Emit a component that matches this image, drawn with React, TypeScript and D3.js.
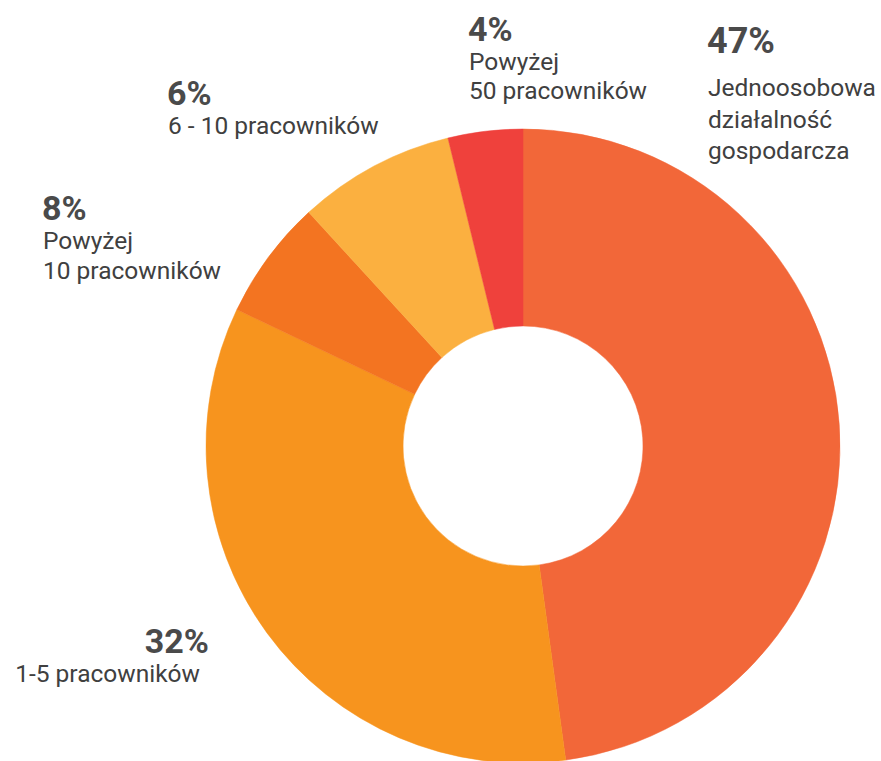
import React, { useEffect, useRef } from 'react';
import * as d3 from 'd3';

// slice shares (clockwise from 12 o'clock)
const sliceShares = [47.8, 34.2, 6.1, 8.0, 3.8];
const sliceColors = ['#F26739', '#F7941E', '#F37421', '#FBB040', '#EF413C'];

// text shown next to each slice
const percentLabels = ['47%', '32%', '8%', '6%', '4%'];
const nameLines = [
    ['Jednoosobowa', 'działalność', 'gospodarcza'],
    ['1-5 pracowników'],
    ['Powyżej', '10 pracowników'],
    ['6 - 10 pracowników'],
    ['Powyżej', '50 pracowników'],
];

// label anchors: [x, baseline of percentage, anchor, pct size, line gap]
const labelPlacement: [number, number, string, number, number][] = [
    [707, 53, 'start', 36, 31.5],
    [209, 653, 'end', 34, 29],
    [42, 220, 'start', 34, 30],
    [167, 105, 'start', 34, 30],
    [468, 41, 'start', 34, 28.5],
];

const App = () => {
    const ref = useRef<SVGSVGElement>(null);

    useEffect(() => {
        if (!ref.current) return;
        const svg = d3.select(ref.current);
        svg.selectAll('*').remove();

        const cx = 523, cy = 446;
        const outer = 317, inner = 120;

        const pie = d3.pie<number>().sort(null).value(d => d);
        const arc = d3.arc<d3.PieArcDatum<number>>().innerRadius(inner).outerRadius(outer);

        const g = svg.append('g').attr('transform', `translate(${cx},${cy})`);
        g.selectAll('path')
            .data(pie(sliceShares))
            .enter()
            .append('path')
            .attr('d', arc)
            .attr('fill', (_, i) => sliceColors[i])
            .attr('stroke', (_, i) => sliceColors[i])
            .attr('stroke-width', 0.5);

        // labels
        percentLabels.forEach((pct, i) => {
            const [x, y, anchor, size, gap] = labelPlacement[i];
            const t = svg.append('g').attr('font-family', 'Roboto, sans-serif').attr('text-anchor', anchor);
            t.append('text')
                .attr('x', x)
                .attr('y', y)
                .attr('font-size', size)
                .attr('font-weight', 'bold')
                .attr('fill', '#4A4A4A')
                .text(pct);
            nameLines[i].forEach((line, j) => {
                t.append('text')
                    .attr('x', i === 1 ? x - 9 : x + 1)
                    .attr('y', y + (i === 0 ? 43 : 29) + j * gap)
                    .attr('font-size', 24.5)
                    .attr('fill', '#404040')
                    .text(line);
            });
        });
    }, []);

    return (
        <svg
            ref={ref}
            width={881}
            height={761}
            style={{ position: 'absolute', left: 0, top: 0, background: '#fff' }}
        />
    );
};

export default App;
